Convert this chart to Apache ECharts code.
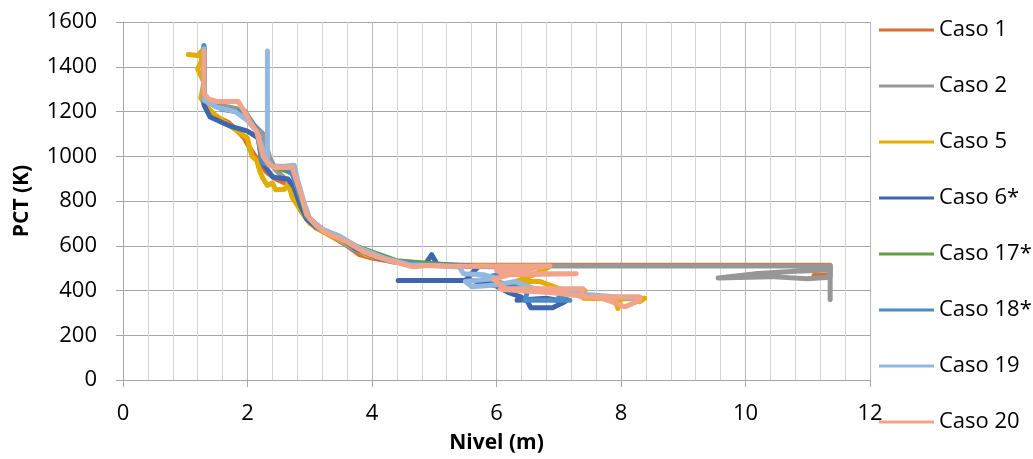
<!DOCTYPE html>
<html lang="es">
<head>
    <meta charset="UTF-8">
    <title>PCT vs Nivel</title>
</head>
<body style="margin:0">

    <div id="echarts" style="width: 1033px; height: 459px"></div>
    <script src="https://cdn.jsdelivr.net/npm/echarts@6/dist/echarts.min.js"></script>
    <script>
        // categorias (casos) y colores de la leyenda
        const casos = ['Caso 1', 'Caso 2', 'Caso 5', 'Caso 6*', 'Caso 17*', 'Caso 18*', 'Caso 19', 'Caso 20'];
        const colores = ['#D9702F', '#979797', '#E2AC00', '#3E65AE', '#629C44', '#4D8BC4', '#93B8E0', '#F2A48A'];

        // ticks de los ejes
        const xTicks = [0, 2, 4, 6, 8, 10, 12];
        const yTicks = [0, 200, 400, 600, 800, 1000, 1200, 1400, 1600];

        // [Nivel (m), PCT (K)]
        const caso1 = [[1.3, 1480], [1.3, 1250], [1.4, 1200], [1.55, 1170], [1.7, 1150], [1.85, 1110], [1.95, 1080],
            [2.05, 1030], [2.15, 990], [2.3, 930], [2.45, 900], [2.6, 880], [2.72, 860], [2.8, 800], [2.87, 765],
            [2.95, 720], [3.1, 680], [3.3, 650], [3.55, 610], [3.8, 560], [4.0, 545], [4.3, 530], [4.6, 520],
            [5.0, 514], [6.0, 513], [8.0, 513], [10.0, 513], [11.36, 513], [11.36, 467], [11.1, 467]];
        const caso2 = [[1.3, 1490], [1.3, 1260], [1.45, 1230], [1.7, 1220], [1.95, 1205], [2.1, 1140], [2.25, 1100],
            [2.35, 1000], [2.45, 940], [2.6, 900], [2.7, 870], [2.78, 820], [2.85, 760], [2.95, 720], [3.1, 680],
            [3.3, 655], [3.6, 600], [3.9, 560], [4.3, 530], [4.7, 515], [5.2, 509], [7.0, 509], [9.0, 509],
            [11.36, 509], [11.36, 360], [11.36, 492], [10.8, 486], [10.2, 476], [9.56, 456], [10.4, 462],
            [11.0, 452], [11.3, 458], [11.36, 470]];
        const caso5 = [[1.05, 1455], [1.2, 1450], [1.28, 1475], [1.25, 1420], [1.2, 1390], [1.3, 1330], [1.25, 1260],
            [1.35, 1220], [1.5, 1180], [1.7, 1140], [1.9, 1100], [2.0, 1080], [2.07, 1000], [2.15, 980], [2.2, 930],
            [2.25, 900], [2.32, 870], [2.4, 880], [2.45, 850], [2.6, 853], [2.65, 880], [2.72, 815], [2.85, 760],
            [3.0, 700], [3.3, 650], [3.6, 610], [3.9, 560], [4.3, 535], [4.6, 527], [4.9, 515], [5.5, 510],
            [6.2, 508], [6.85, 506], [6.6, 470], [6.3, 440], [6.7, 440], [7.1, 400], [7.42, 400], [7.4, 365],
            [7.9, 362], [7.95, 320], [8.0, 362], [8.38, 365], [8.3, 350]];
        const caso6 = [[1.3, 1480], [1.3, 1230], [1.4, 1175], [1.6, 1150], [1.72, 1135], [1.99, 1113], [2.1, 1095],
            [2.2, 1075], [2.25, 965], [2.41, 906], [2.65, 898], [2.75, 860], [2.85, 780], [2.95, 720], [3.1, 685],
            [3.3, 660], [3.5, 635], [3.75, 585], [4.1, 545], [4.5, 525], [4.85, 515], [4.96, 560], [5.05, 515],
            [5.5, 512], [5.7, 505], [5.5, 445], [4.42, 445], [5.6, 445], [6.0, 420], [6.2, 390], [6.4, 370],
            [6.5, 350], [6.55, 323], [6.9, 323], [7.1, 350], [6.8, 365], [6.33, 356]];
        const caso17 = [[1.3, 1480], [1.3, 1265], [1.45, 1232], [1.61, 1212], [1.93, 1197], [2.15, 1120],
            [2.23, 975], [2.41, 957], [2.72, 925], [2.95, 735], [3.2, 672], [3.65, 607], [4.4, 532], [5.5, 509]];
        const caso18 = [[1.3, 1495], [1.3, 1268], [1.45, 1230], [1.61, 1209], [1.93, 1195], [2.05, 1160], [2.15, 1120],
            [2.2, 1040], [2.23, 972], [2.41, 957], [2.6, 950], [2.72, 920], [2.79, 868], [2.9, 790], [2.95, 730],
            [3.2, 670], [3.45, 645], [3.65, 605], [4.0, 560], [4.4, 530], [4.8, 515], [5.5, 508], [6.2, 505],
            [6.0, 470], [5.8, 455], [6.0, 438], [6.3, 420], [6.5, 400], [6.46, 356], [7.18, 356], [7.0, 370]];
        const caso19 = [[1.3, 1480], [1.3, 1250], [1.5, 1220], [1.8, 1200], [2.0, 1160], [2.15, 1110], [2.25, 1030],
            [2.32, 1000], [2.32, 1470], [2.32, 980], [2.4, 955], [2.6, 955], [2.75, 960], [2.8, 900], [2.9, 800],
            [3.0, 720], [3.2, 675], [3.5, 640], [3.8, 590], [4.2, 545], [4.6, 515], [5.0, 512], [5.4, 505],
            [5.47, 475], [5.8, 470], [6.0, 455], [5.5, 440], [5.6, 417], [6.0, 425], [6.3, 440], [6.6, 410],
            [7.1, 390], [8.0, 370], [8.2, 365]];
        const caso20 = [[1.3, 1470], [1.3, 1280], [1.38, 1255], [1.5, 1245], [1.85, 1245], [1.95, 1200], [2.05, 1150],
            [2.15, 1110], [2.25, 1000], [2.35, 960], [2.45, 950], [2.72, 950], [2.8, 880], [2.87, 820], [2.95, 740],
            [3.1, 690], [3.25, 660], [3.6, 617], [3.85, 575], [4.1, 548], [4.4, 525], [4.66, 506], [4.9, 512],
            [5.3, 508], [6.0, 508], [6.86, 510], [6.5, 495], [6.0, 490], [6.1, 475], [7.28, 475], [6.2, 470],
            [5.95, 450], [6.1, 420], [6.06, 408], [7.39, 408], [7.34, 372], [8.3, 372], [8.3, 355], [8.06, 327],
            [7.9, 345], [7.7, 365], [6.9, 390], [6.1, 405]];

        const datos = [caso1, caso2, caso5, caso6, caso17, caso18, caso19, caso20];

        const fuente = '"Open Sans", "Noto Sans", sans-serif';

        const option = {
            animation: false,
            color: colores,
            grid: {
                left: 123,
                right: 163,
                top: 22,
                bottom: 77
            },
            legend: {
                orient: 'vertical',
                left: 874,
                top: 14,
                icon: 'rect',
                itemWidth: 55,
                itemHeight: 3,
                itemGap: 34,
                textStyle: {
                    fontFamily: fuente,
                    fontSize: 22,
                    lineHeight: 22,
                    color: '#000'
                },
                data: casos
            },
            xAxis: {
                type: 'value',
                min: xTicks[0],
                max: xTicks[xTicks.length - 1],
                interval: 2,
                name: 'Nivel (m)',
                nameLocation: 'middle',
                nameGap: 53,
                nameTextStyle: { fontFamily: fuente, fontSize: 21, fontWeight: 'bold', color: '#000' },
                axisLine: { show: true, lineStyle: { color: '#a6a6a6' } },
                axisTick: { show: true, length: 7, lineStyle: { color: '#a6a6a6' } },
                axisLabel: { fontFamily: fuente, fontSize: 22, color: '#000', margin: 23, formatter: v => String(v) },
                splitLine: { show: true, lineStyle: { color: '#b8b8b8' } },
                minorTick: { show: false, splitNumber: 5 },
                minorSplitLine: { show: true, lineStyle: { color: '#d4d4d4' } }
            },
            yAxis: {
                type: 'value',
                min: yTicks[0],
                max: yTicks[yTicks.length - 1],
                interval: 200,
                name: 'PCT (K)',
                nameLocation: 'middle',
                nameGap: 90,
                nameTextStyle: { fontFamily: fuente, fontSize: 21, fontWeight: 'bold', color: '#000' },
                axisLine: { show: true, lineStyle: { color: '#a6a6a6' } },
                axisTick: { show: true, length: 7, lineStyle: { color: '#a6a6a6' } },
                axisLabel: { fontFamily: fuente, fontSize: 22, color: '#000', margin: 26, formatter: v => String(v) },
                splitLine: { show: true, lineStyle: { color: '#a6a6a6' } }
            },
            series: casos.map((nombre, i) => ({
                name: nombre,
                type: 'line',
                data: datos[i],
                showSymbol: false,
                symbol: 'none',
                lineStyle: { width: 5, cap: 'round', join: 'round' }
            }))
        };

        var chartDom = document.getElementById("echarts");
        var myChart = echarts.init(chartDom);
        myChart.setOption(option);
    </script>
</body>
</html>
